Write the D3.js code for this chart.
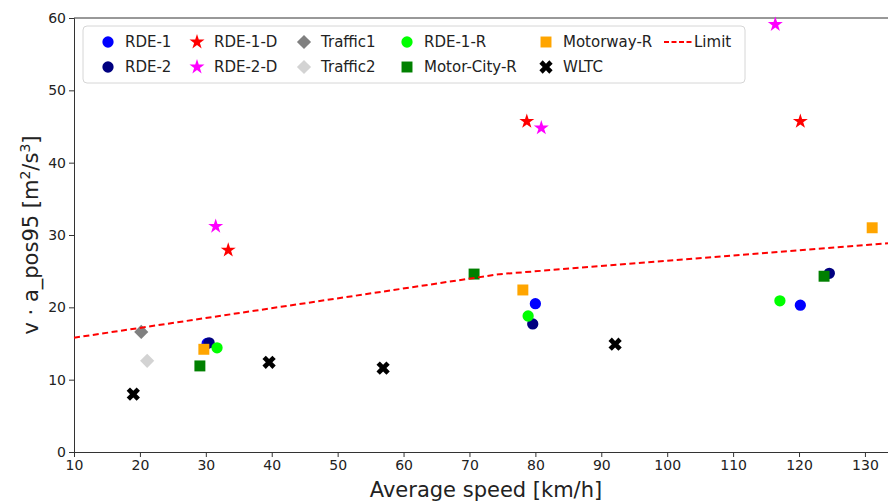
<!DOCTYPE html>
<html>
<head>
<meta charset="utf-8">
<script src="https://cdn.jsdelivr.net/npm/d3@7"></script>
<style>
  body { margin: 0; background: #fff; }
  svg text { font-family: "DejaVu Sans", sans-serif; fill: #222; }
</style>
</head>
<body>
<div id="chart"></div>
<script>
// data
const speedRde1 = [30.2, 80.0, 120.2]
const valRde1 = [15.0, 20.5, 20.3]
const speedRde2 = [30.5, 79.6, 124.6]
const valRde2 = [15.1, 17.7, 24.7]
const speedRde1D = [33.4, 78.7, 120.2]
const valRde1D = [27.9, 45.7, 45.7]
const speedRde2D = [31.5, 80.9, 116.4]
const valRde2D = [31.2, 44.8, 59.1]
const speedTraffic1 = [20.2]
const valTraffic1 = [16.6]
const speedTraffic2 = [21.1]
const valTraffic2 = [12.6]
const speedRde1R = [31.7, 78.9, 117.1]
const valRde1R = [14.4, 18.8, 20.9]
const speedMotorCity = [29.1, 70.7, 123.8]
const valMotorCity = [11.9, 24.6, 24.3]
const speedMotorway = [29.7, 78.1, 131.1]
const valMotorway = [14.2, 22.4, 31.0]
const speedWltc = [19.0, 39.6, 56.9, 92.1]
const valWltc = [8.0, 12.4, 11.6, 14.9]
const limitSpeed = [10, 74.6, 133.5]
const limitVal = [15.8, 24.59, 28.87]
const xTicks = [10, 20, 30, 40, 50, 60, 70, 80, 90, 100, 110, 120, 130]
const yTicks = [0, 10, 20, 30, 40, 50, 60]

const W = 888, H = 503
const margin = {left: 74, top: 18, right: 0, bottom: 51}

const svg = d3.select('#chart').append('svg')
  .attr('width', W).attr('height', H)

const x = d3.scaleLinear().domain([10, 133.5]).range([margin.left, W - margin.right])
const y = d3.scaleLinear().domain([0, 60]).range([H - margin.bottom, margin.top])

// marker styles, legend order (matplotlib fills columns first)
const series = [
  {name: 'RDE-1', xs: speedRde1, ys: valRde1, shape: 'circle', color: '#0000ff'},
  {name: 'RDE-2', xs: speedRde2, ys: valRde2, shape: 'circle', color: '#000080'},
  {name: 'RDE-1-D', xs: speedRde1D, ys: valRde1D, shape: 'star', color: '#ff0000'},
  {name: 'RDE-2-D', xs: speedRde2D, ys: valRde2D, shape: 'star', color: '#ff00ff'},
  {name: 'Traffic1', xs: speedTraffic1, ys: valTraffic1, shape: 'diamond', color: '#808080'},
  {name: 'Traffic2', xs: speedTraffic2, ys: valTraffic2, shape: 'diamond', color: '#d3d3d3'},
  {name: 'RDE-1-R', xs: speedRde1R, ys: valRde1R, shape: 'circle', color: '#00ff00'},
  {name: 'Motor-City-R', xs: speedMotorCity, ys: valMotorCity, shape: 'square', color: '#008000'},
  {name: 'Motorway-R', xs: speedMotorway, ys: valMotorway, shape: 'square', color: '#ffa500'},
  {name: 'WLTC', xs: speedWltc, ys: valWltc, shape: 'x', color: '#000000'}
]

function markerPath (shape) {
  if (shape === 'circle') return d3.symbol(d3.symbolCircle, 100)()
  if (shape === 'star') return d3.symbol(d3.symbolStar, 70)()
  if (shape === 'diamond') return d3.symbol(d3.symbolSquare, 100)()
  if (shape === 'square') return d3.symbol(d3.symbolSquare, 120)()
  return d3.symbol(d3.symbolCross, 110)()
}
function markerRot (shape) {
  return (shape === 'diamond' || shape === 'x') ? ' rotate(45)' : ''
}

// axes
const xAxis = svg.append('g')
  .attr('transform', `translate(0,${H - margin.bottom})`)
  .call(d3.axisBottom(x).tickValues(xTicks).tickSizeOuter(0).tickSize(5).tickPadding(3))
const yAxis = svg.append('g')
  .attr('transform', `translate(${margin.left},0)`)
  .call(d3.axisLeft(y).tickValues(yTicks).tickSizeOuter(0).tickSize(5).tickPadding(3))
for (const ax of [xAxis, yAxis]) {
  ax.selectAll('text').style('font-size', '14px').style('fill', '#222')
  ax.selectAll('line, path').attr('stroke', '#333')
}
// top spine
svg.append('line')
  .attr('x1', margin.left).attr('x2', W)
  .attr('y1', margin.top).attr('y2', margin.top)
  .attr('stroke', '#333')

const plot = svg.append('g')

series.forEach(s => {
  plot.selectAll(null).data(s.xs.map((v, i) => [v, s.ys[i]]))
    .enter().append('path')
    .attr('d', markerPath(s.shape))
    .attr('transform', d => `translate(${x(d[0])},${y(d[1])})` + markerRot(s.shape))
    .attr('fill', s.color)
})

plot.append('path')
  .datum(limitSpeed.map((v, i) => [v, limitVal[i]]))
  .attr('d', d3.line().x(d => x(d[0])).y(d => y(d[1])))
  .attr('fill', 'none')
  .attr('stroke', '#ff0000')
  .attr('stroke-width', 2)
  .attr('stroke-dasharray', '6,3.5')

// axis titles
svg.append('text')
  .attr('x', (margin.left + W) / 2 + 5).attr('y', 497)
  .attr('text-anchor', 'middle')
  .style('font-size', '21px')
  .text('Average speed [km/h]')

const yl = svg.append('text')
  .attr('transform', `translate(38,${(margin.top + H - margin.bottom) / 2}) rotate(-90)`)
  .attr('text-anchor', 'middle')
  .style('font-size', '21px')
yl.append('tspan').text('v · a_pos95 [m')
yl.append('tspan').attr('dy', -8).style('font-size', '14px').text('2')
yl.append('tspan').attr('dy', 8).text('/s')
yl.append('tspan').attr('dy', -8).style('font-size', '14px').text('3')
yl.append('tspan').attr('dy', 8).text(']')

// legend
const leg = svg.append('g')
leg.append('rect')
  .attr('x', 83).attr('y', 26).attr('width', 662).attr('height', 57)
  .attr('rx', 4).attr('fill', '#fff').attr('fill-opacity', 0.8)
  .attr('stroke', '#d6d6d6')

const colX = [108, 197, 304, 407, 546, 678]
const rowY = [42, 67]
const entries = series.map(s => ({name: s.name, shape: s.shape, color: s.color}))
entries.push({name: 'Limit', shape: 'line', color: '#ff0000'})

entries.forEach((e, i) => {
  const cx = colX[Math.floor(i / 2)]
  const cy = rowY[i % 2]
  const g = leg.append('g')
  if (e.shape === 'line') {
    g.append('line')
      .attr('x1', cx - 14).attr('x2', cx + 15)
      .attr('y1', cy).attr('y2', cy)
      .attr('stroke', e.color).attr('stroke-width', 2)
      .attr('stroke-dasharray', '5,2.5')
    g.append('text').attr('x', cx + 16).attr('y', cy + 5)
      .style('font-size', '15px').text(e.name)
  } else {
    g.append('path')
      .attr('d', markerPath(e.shape))
      .attr('transform', `translate(${cx},${cy})` + markerRot(e.shape))
      .attr('fill', e.color)
    g.append('text').attr('x', cx + 17).attr('y', cy + 5)
      .style('font-size', '15px').text(e.name)
  }
})
</script>
</body>
</html>
